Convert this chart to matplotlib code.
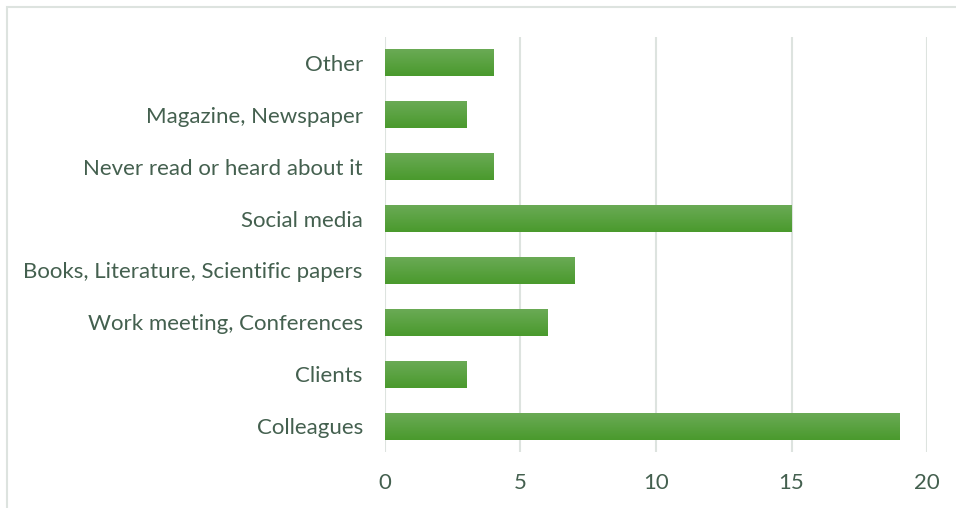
import numpy as np
import matplotlib.pyplot as plt
from matplotlib.patches import Rectangle

# survey answers: where respondents heard about it
categories = ["Colleagues", "Clients", "Work meeting, Conferences",
              "Books, Literature, Scientific papers", "Social media",
              "Never read or heard about it", "Magazine, Newspaper", "Other"]
counts = [19, 3, 6, 7, 15, 4, 3, 4]
x_ticks = [0, 5, 10, 15, 20]

text_color = "#44604f"
grid_color = "#dde3df"

plt.rcParams["font.family"] = ["Lato", "DejaVu Sans"]

fig = plt.figure(figsize=(9.56, 5.08), dpi=100)
ax = fig.add_axes([0.4027, 0.1102, 0.9697 - 0.4027, 0.9272 - 0.1102])

y = np.arange(len(categories))
bars = ax.barh(y, counts, height=0.52, color="#55a03a", zorder=2)

# vertical gradient, lighter at the top of each bar
grad = np.linspace(0, 1, 64).reshape(-1, 1)
cmap = plt.matplotlib.colors.LinearSegmentedColormap.from_list(
    "bar", ["#4a9a2d", "#6aaa55"])
for b in bars:
    x0, y0 = b.get_x(), b.get_y()
    w, h = b.get_width(), b.get_height()
    im = ax.imshow(grad, cmap=cmap, aspect="auto", origin="lower",
                   extent=[x0, x0 + w, y0, y0 + h], zorder=3)
    im.set_clip_path(b)

ax.set_xlim(0, 20)
ax.set_ylim(-0.5, len(categories) - 0.5)
ax.set_xticks(x_ticks)
ax.set_yticks(y)
ax.set_yticklabels(categories)
ax.tick_params(axis="both", length=0, labelsize=16, labelcolor=text_color)
ax.tick_params(axis="y", pad=16)
ax.tick_params(axis="x", pad=15)
ax.grid(axis="x", color=grid_color, linewidth=1.5, zorder=0)
for s in ax.spines.values():
    s.set_visible(False)

# light frame around the chart area
fig.patches.append(Rectangle((7 / 956, -0.05), 1.1, 1 - 7 / 508 + 0.05,
                             transform=fig.transFigure, fill=False,
                             edgecolor=grid_color, linewidth=1.5))

fig.savefig("out.png", dpi=100)
